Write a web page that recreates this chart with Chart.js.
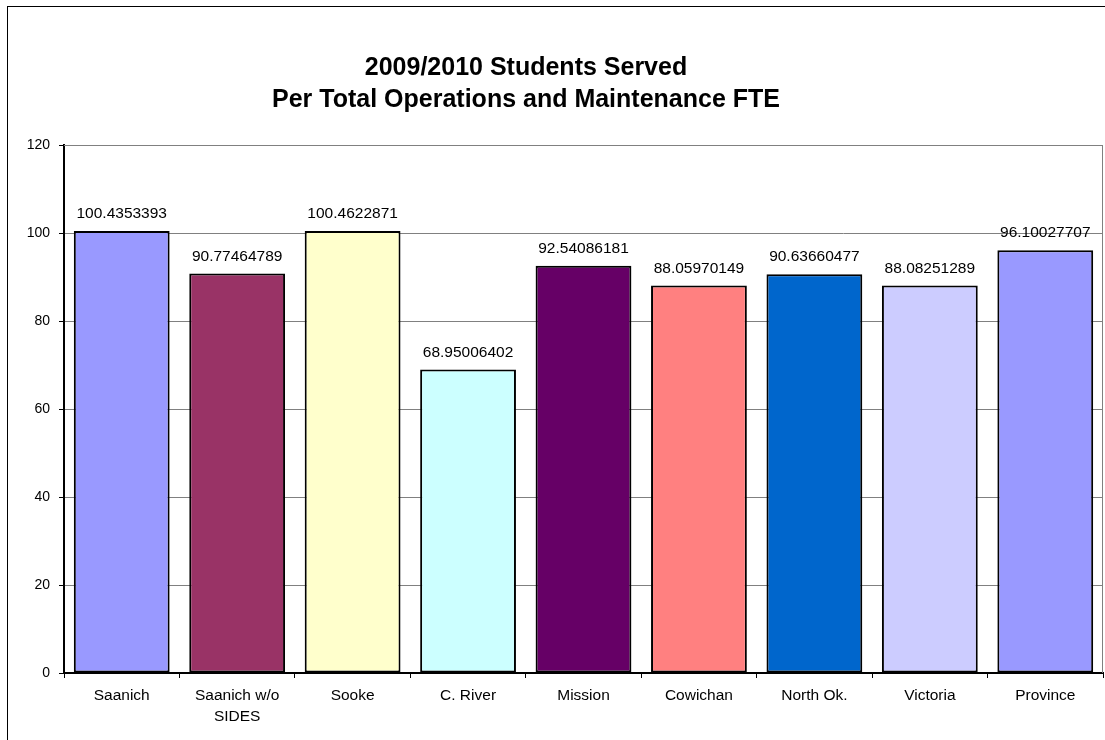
<!DOCTYPE html>
<html>
<head>
<meta charset="utf-8">
<script src="https://cdn.jsdelivr.net/npm/chart.js@4"></script>
<style>
  html, body { margin: 0; padding: 0; background: #fff; overflow: hidden; }
  #marco { position: absolute; left: 7px; top: 6px; width: 1120px; height: 760px; border: 1px solid #000; box-sizing: border-box; }
  #lienzo { position: absolute; left: 0; top: 0; }
</style>
</head>
<body>
<div id="marco"></div>
<canvas id="lienzo" width="1105" height="740"></canvas>
<script>
// datos del grafico
const distritos = ["Saanich", ["Saanich w/o", "SIDES"], "Sooke", "C. River", "Mission", "Cowichan", "North Ok.", "Victoria", "Province"];
const alumnosPorFTE = [100.4353393, 90.77464789, 100.4622871, 68.95006402, 92.54086181, 88.05970149, 90.63660477, 88.08251289, 96.10027707];
const coloresBarras = ["#9999FF", "#993366", "#FFFFCC", "#CCFFFF", "#660066", "#FF8080", "#0066CC", "#CCCCFF", "#9999FF"];
const lineasTitulo = ["2009/2010 Students Served", "Per Total Operations and Maintenance FTE"];

const fuente = "'Liberation Sans', Arial, sans-serif";

// titulo dibujado a mano (centrado como en la hoja original)
const pluginTitulo = {
  id: "tituloExcel",
  afterDraw(chart) {
    const ctx = chart.ctx;
    ctx.save();
    ctx.fillStyle = "#000";
    ctx.font = "bold 25px " + fuente;
    ctx.textAlign = "center";
    ctx.textBaseline = "middle";
    lineasTitulo.forEach((t, i) => ctx.fillText(t, 526, 68 + i * 32));
    ctx.restore();
  }
};

// borde gris del area de trazado
const pluginBorde = {
  id: "bordeArea",
  beforeDatasetsDraw(chart) {
    const a = chart.chartArea;
    const ctx = chart.ctx;
    ctx.save();
    ctx.strokeStyle = "#808080";
    ctx.lineWidth = 1;
    ctx.beginPath();
    ctx.moveTo(a.left, a.top + 0.5);
    ctx.lineTo(a.right - 0.5, a.top + 0.5);
    ctx.lineTo(a.right - 0.5, a.bottom);
    ctx.stroke();
    ctx.restore();
  }
};

// etiquetas de valor encima de cada barra
const pluginEtiquetas = {
  id: "etiquetasValor",
  afterDatasetsDraw(chart) {
    const ctx = chart.ctx;
    const meta = chart.getDatasetMeta(0);
    ctx.save();
    ctx.fillStyle = "#000";
    ctx.font = "15.5px " + fuente;
    ctx.textAlign = "center";
    ctx.textBaseline = "middle";
    meta.data.forEach((barra, i) => {
      ctx.fillText(String(alumnosPorFTE[i]), barra.x, barra.y - 17);
    });
    ctx.restore();
  }
};

new Chart(document.getElementById("lienzo"), {
  type: "bar",
  data: {
    labels: distritos,
    datasets: [{
      data: alumnosPorFTE,
      backgroundColor: coloresBarras,
      borderColor: "#000",
      borderWidth: 2,
      borderSkipped: false,
      categoryPercentage: 1,
      barPercentage: 0.83
    }]
  },
  options: {
    responsive: false,
    animation: false,
    layout: { padding: { top: 145, right: 2, left: 8, bottom: 0 } },
    plugins: {
      legend: { display: false },
      title: { display: false },
      tooltip: { enabled: false }
    },
    scales: {
      x: {
        offset: true,
        grid: { offset: true, drawOnChartArea: false, drawTicks: true, tickLength: 5, tickColor: "#000" },
        border: { color: "#000", width: 2 },
        ticks: { color: "#000", font: { family: fuente, size: 15.5, lineHeight: 1.35 }, maxRotation: 0, padding: 7 },
        afterFit(s) { s.height = 740 - 673; }
      },
      y: {
        min: 0,
        max: 120,
        ticks: { stepSize: 20, color: "#000", font: { family: fuente, size: 14 }, padding: 9 },
        grid: { color: "#808080", lineWidth: 1, tickLength: 5, tickColor: "#000" },
        border: { color: "#000", width: 2 },
        afterFit(s) { s.width = 64 - 8; }
      }
    }
  },
  plugins: [pluginBorde, pluginEtiquetas, pluginTitulo]
});
</script>
</body>
</html>
